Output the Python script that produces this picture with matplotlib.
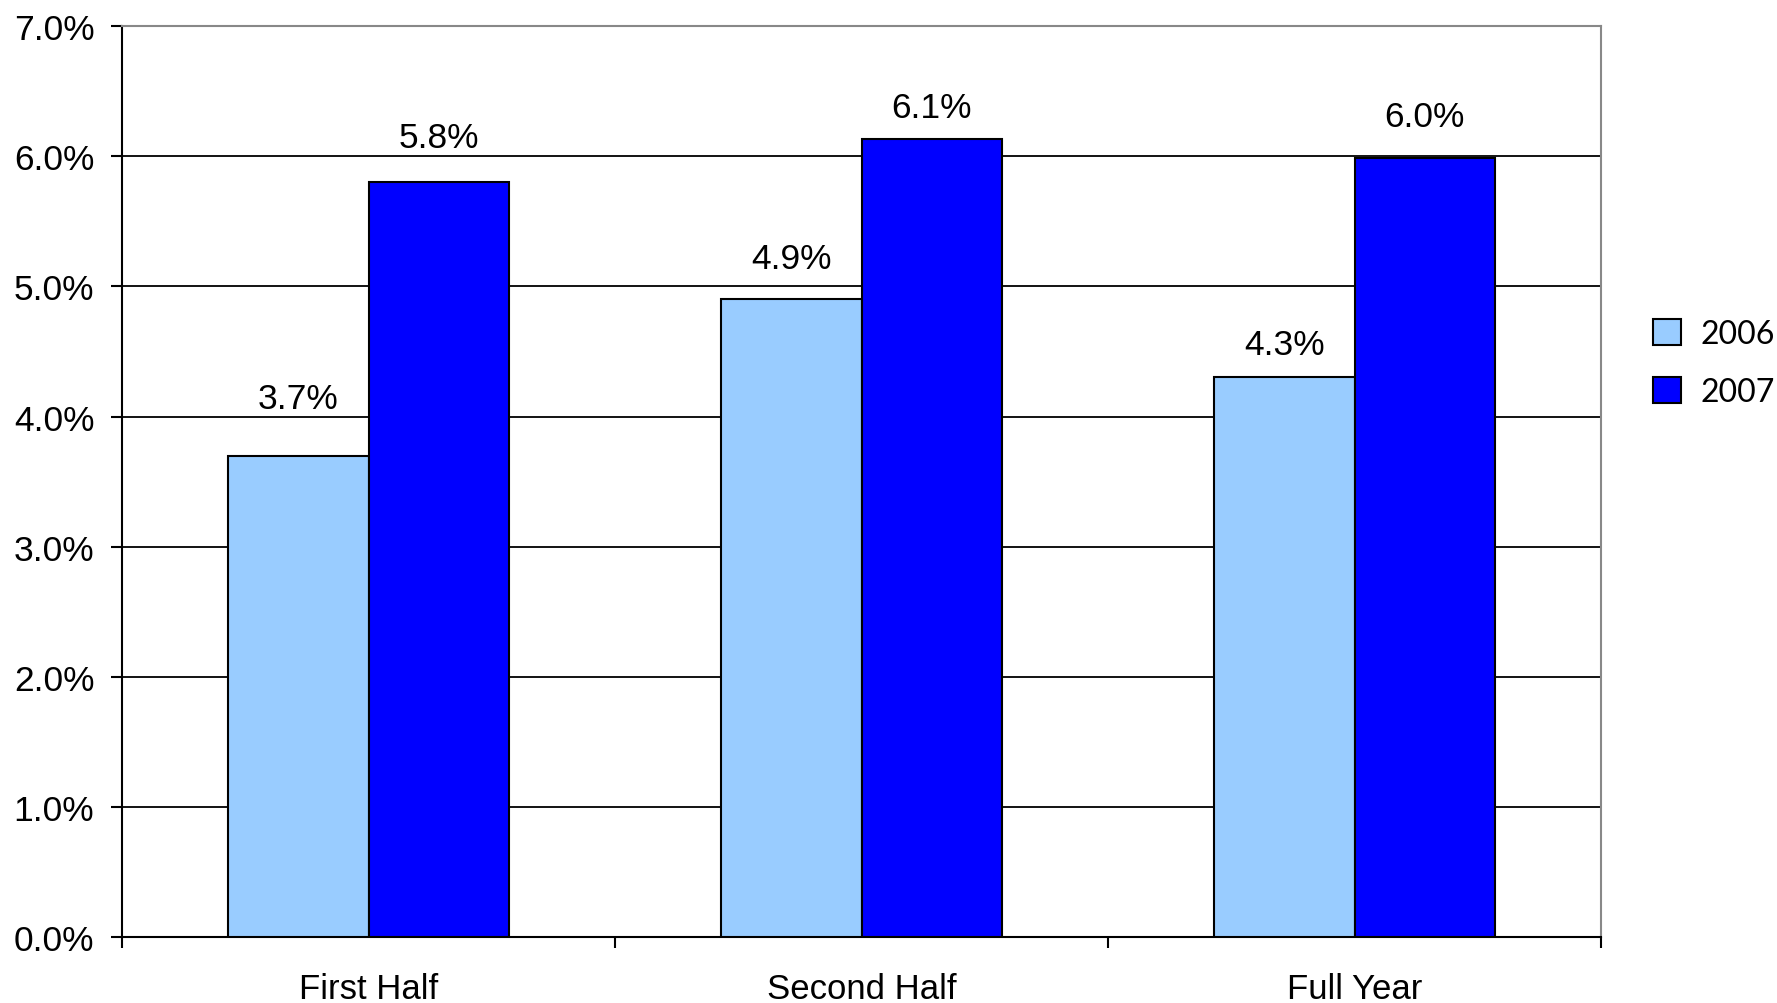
import matplotlib.pyplot as plt
import numpy as np
from matplotlib.ticker import PercentFormatter

categories = ['First Half', 'Second Half', 'Full Year']
series_names = ['2006', '2007']
values_2006 = [3.7, 4.9, 4.3]
values_2007 = [5.8, 6.13, 5.99]
colors = ['#99CCFF', '#0000FF']
# label offsets above bar tops (points), as placed in the original
label_offsets = [[41, 29.5, 23.5], [32.5, 23, 29.5]]

plt.rcParams['font.family'] = ['Liberation Sans', 'DejaVu Sans']

fig = plt.figure(figsize=(17.77, 10.04), dpi=100)
ax = fig.add_axes([0.0687, 0.0657, 0.8323, 0.9073])

x = np.arange(len(categories))
w = 0.285
for i, (vals, name) in enumerate(zip([values_2006, values_2007], series_names)):
    bars = ax.bar(x + (i - 0.5) * w, vals, width=w, color=colors[i],
                  edgecolor='black', linewidth=1.5, label=name, zorder=3)
    for b, v, off in zip(bars, vals, label_offsets[i]):
        ax.annotate(f'{v:.1f}%', (b.get_x() + b.get_width() / 2, b.get_height()),
                    xytext=(0, off), textcoords='offset points',
                    ha='center', va='center', fontsize=25.5)

ax.set_xlim(-0.5, 2.5)
ax.set_ylim(0, 7)
ax.set_yticks(np.arange(0, 7.01, 1))
ax.yaxis.set_major_formatter(PercentFormatter(decimals=1))
ax.grid(axis='y', color='black', linewidth=1.3, zorder=0)
ax.set_axisbelow(True)

# ticks at category boundaries, labels at centers
ax.set_xticks([-0.5, 0.5, 1.5, 2.5])
ax.set_xticklabels([])
ax.set_xticks(x, minor=True)
ax.set_xticklabels(categories, minor=True, fontsize=25)
ax.tick_params(axis='x', which='major', length=8, width=1.5, direction='out')
ax.tick_params(axis='x', which='minor', length=0, pad=25)
ax.tick_params(axis='y', length=8, width=1.5, labelsize=25.5, pad=12)

for s in ['top', 'right']:
    ax.spines[s].set_color('#888888')
    ax.spines[s].set_linewidth(1.5)
for s in ['left', 'bottom']:
    ax.spines[s].set_color('black')
    ax.spines[s].set_linewidth(1.5)

fig.legend(loc='center left', bbox_to_anchor=(0.921, 0.6376), frameon=False,
           prop={'family': 'Lato', 'size': 23}, handlelength=0.9, handleheight=0.9,
           labelspacing=0.87, handletextpad=0.6, borderpad=0)

fig.savefig('out.png', dpi=100)
